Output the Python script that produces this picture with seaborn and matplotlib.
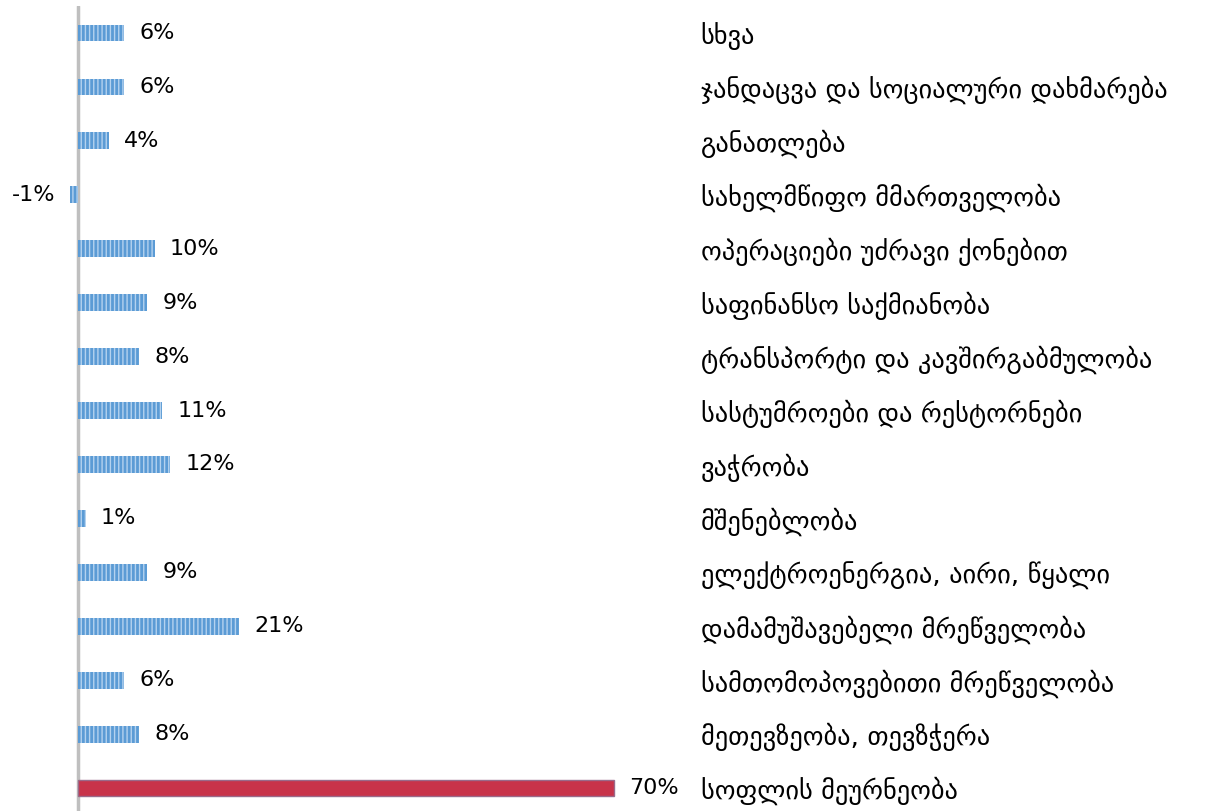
import numpy as np
import pandas as pd
import matplotlib
matplotlib.use('Agg')
import matplotlib.pyplot as plt
import seaborn as sns

# Dane (od góry do dołu)
categories = [
    'სხვა',
    'ჯანდაცვა და სოციალური დახმარება',
    'განათლება',
    'სახელმწიფო მმართველობა',
    'ოპერაციები უძრავი ქონებით',
    'საფინანსო საქმიანობა',
    'ტრანსპორტი და კავშირგაბმულობა',
    'სასტუმროები და რესტორნები',
    'ვაჭრობა',
    'მშენებლობა',
    'ელექტროენერგია, აირი, წყალი',
    'დამამუშავებელი მრეწველობა',
    'სამთომოპოვებითი მრეწველობა',
    'მეთევზეობა, თევზჭერა',
    'სოფლის მეურნეობა',
]
values = [6, 6, 4, -1, 10, 9, 8, 11, 12, 1, 9, 21, 6, 8, 70]

COLOR_BLUE = '#5b9bd5'
COLOR_RED = '#c8334a'

sns.set_style('white')
plt.rcParams['font.family'] = ['DejaVu Sans']
plt.rcParams['hatch.linewidth'] = 1.0

df = pd.DataFrame({'kategoria': categories, 'wartosc': values})
palette = [COLOR_BLUE] * (len(categories) - 1) + [COLOR_RED]

fig = plt.figure(figsize=(12.28, 8.11), dpi=100)
ax = fig.add_axes([66.5 / 1228, -0.005, (690.8 - 66.5) / 1228, 1 - 6 / 811 + 0.005])

sns.barplot(data=df, x='wartosc', y='kategoria', hue='kategoria', palette=palette,
            legend=False, orient='h', width=0.31, ax=ax, saturation=1)

for i, patch in enumerate(ax.patches):
    if i < len(categories) - 1:
        patch.set_hatch('||||')
        patch.set_edgecolor('#b4d2ef')
        patch.set_linewidth(0)
    else:
        patch.set_edgecolor('#9a6a8a')
        patch.set_linewidth(1.0)

# Etykiety wartości
for i, v in enumerate(values):
    if v >= 0:
        ax.text(v + 2.0, i, f'{v}%', ha='left', va='center', fontsize=16, color='black')
    else:
        ax.text(v - 2.0, i, f'{v}%', ha='right', va='center', fontsize=16, color='black')

ax.axvline(0, color='#bfbfbf', linewidth=2.5, zorder=0)
ax.set_xlim(-1.5, 80)
ax.set_ylim(len(categories) - 0.5, -0.5)

ax.set_xticks([])
ax.yaxis.tick_right()
ax.set_yticks(range(len(categories)))
ax.set_yticklabels(categories, fontsize=19, color='black')
ax.tick_params(axis='y', length=0, pad=7)
ax.set_xlabel('')
ax.set_ylabel('')
for s in ax.spines.values():
    s.set_visible(False)

fig.savefig('out.png', dpi=100)
